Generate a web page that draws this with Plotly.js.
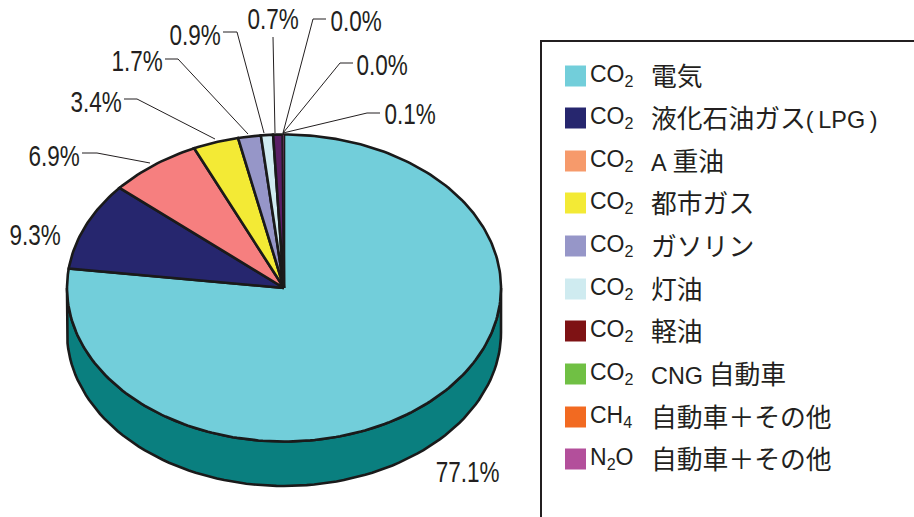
<!DOCTYPE html>
<html><head><meta charset="utf-8">
<script src="https://cdn.plot.ly/plotly-3.0.1.min.js"></script>
<style>html,body{margin:0;padding:0;background:#fff;overflow:hidden}</style>
</head><body><div id="chart" style="width:914px;height:517px"></div>
<script>
// Data
const formulas = ['CO<sub>2</sub>','CO<sub>2</sub>','CO<sub>2</sub>','CO<sub>2</sub>','CO<sub>2</sub>','CO<sub>2</sub>','CO<sub>2</sub>','CO<sub>2</sub>','CH<sub>4</sub>','N<sub>2</sub>O'];
const names = ['電気','液化石油ガス(\u2009LPG\u2009)','A 重油','都市ガス','ガソリン','灯油','軽油','CNG 自動車','自動車\uFF0Bその他','自動車\uFF0Bその他'];
const values = [77.1,9.3,6.9,3.4,1.7,0.9,0.7,0.0,0.0,0.1];
const sliceColors = ['#72CEDA','#26266E','#F67F7F','#F3EA35','#9696C8','#CFEBF0','#5A1F66','#70C044','#F26A21','#B34F9B'];
const legendColors = ['#72CEDA','#26266E','#F69A6B','#F3EA35','#9696C8','#CFEBF0','#7E1214','#70C044','#F26A21','#B34F9B'];
const sideColor = '#0A7F7F';
const ink = '#231F20';

// Layout helpers (pixel -> pie units)
const W=914,H=517,cx=284,cy=288,rx=217,ry=153.5,depth=44.5/153.5;
const X=p=>(p-cx)/rx, Y=p=>(cy-p)/ry;
const total=values.reduce((a,b)=>a+b,0);
const edge={color:'#1a1a1a',width:2.6};
const traces=[];
// side wall
(function(){
  const xs=[],ys=[];
  for(let a=90;a<=270;a+=2){const t=a*Math.PI/180;xs.push(Math.sin(t));ys.push(Math.cos(t));}
  for(let a=270;a>=90;a-=2){const t=a*Math.PI/180;xs.push(Math.sin(t));ys.push(Math.cos(t)-depth);}
  xs.push(xs[0]);ys.push(ys[0]);
  traces.push({type:'scatter',mode:'lines',x:xs,y:ys,fill:'toself',fillcolor:sideColor,line:edge,hoverinfo:'skip',showlegend:false});
})();
// slices
let cum=0;
values.forEach((v,i)=>{
  if(v<=0){return;}
  const a0=cum/total*2*Math.PI; cum+=v; const a1=cum/total*2*Math.PI;
  const xs=[0],ys=[0];const n=Math.max(2,Math.ceil((a1-a0)/0.02));
  for(let k=0;k<=n;k++){const t=a0+(a1-a0)*k/n;xs.push(Math.sin(t));ys.push(Math.cos(t));}
  xs.push(0);ys.push(0);
  traces.push({type:'scatter',mode:'lines',x:xs,y:ys,fill:'toself',fillcolor:sliceColors[i],line:{color:edge.color,width:v<0.5?1:edge.width},hoverinfo:'skip',showlegend:false,name:formulas[i]+' '+names[i]});
});
// value labels
const labelFont={family:'"Liberation Sans",Arial,sans-serif',size:30,color:ink};
const labelPos=[[467,471],[35,234],[54,155],[96,101],[137,60],[195,34],[273,18],[356,20],[382,64],[410,113]];
const annotations=[];
values.forEach((v,i)=>{
  annotations.push({xref:'x',yref:'y',x:X(labelPos[i][0]),y:Y(labelPos[i][1]),text:v.toFixed(1)+'%',showarrow:false,font:labelFont,xanchor:'center',yanchor:'middle'});
});
// leader lines
const leaders=[[[82,153],[97,153],[150,163]],[[124,99],[137,99],[215,139]],[[165,59],[178,59],[248,134]],[[223,32],[237,32],[264,133]],[[273,37],[275,133]],[[326,19],[313,19],[283,133]],[[353,63],[340,63],[283,133]],[[380,113],[367,113],[283,133]]];
leaders.forEach(l=>traces.push({type:'scatter',mode:'lines',x:l.map(p=>X(p[0])),y:l.map(p=>Y(p[1])),line:{color:ink,width:1},hoverinfo:'skip',showlegend:false}));
// legend
const rowY=[76,118,161,203,246,289,331,374,417,459];
traces.push({type:'scatter',mode:'markers',x:rowY.map(()=>X(575.5)),y:rowY.map(p=>Y(p)),marker:{symbol:'square',size:21,color:legendColors,line:{width:0}},hoverinfo:'skip',showlegend:false});
const legFont={family:'"Liberation Sans",Arial,sans-serif',size:23,color:ink};
const jpFont={family:'"Noto Sans CJK JP","Liberation Sans",sans-serif',size:25.8,color:ink};
const styled=s=>s.replace(/[A-Z()\u2009]+/g,m=>'<span style="font-size:23.4px;font-family:Liberation Sans">'+m+'</span>');
rowY.forEach((p,i)=>{
  annotations.push({xref:'x',yref:'y',x:X(588),y:Y(p-1),text:formulas[i],showarrow:false,font:legFont,xanchor:'left',yanchor:'middle'});
  annotations.push({xref:'x',yref:'y',x:X(649),y:Y(p-2),text:styled(names[i]),showarrow:false,font:jpFont,xanchor:'left',yanchor:'middle'});
});
const layout={width:W,height:H,margin:{l:0,r:0,t:0,b:0},paper_bgcolor:'#fff',plot_bgcolor:'#fff',showlegend:false,
 xaxis:{range:[X(0),X(W)],visible:false,fixedrange:true},
 yaxis:{range:[Y(H),Y(0)],visible:false,fixedrange:true},
 shapes:[{type:'rect',xref:'x',yref:'y',x0:X(541),x1:X(930),y0:Y(41),y1:Y(530),line:{color:ink,width:2},fillcolor:'rgba(0,0,0,0)',layer:'below'}],
 annotations};
Plotly.newPlot('chart',traces,layout,{displayModeBar:false,staticPlot:true}).then(()=>{
  // the reference's percentage labels use a condensed face
  document.querySelectorAll('.annotation-text').forEach(t=>{
    if(/%$/.test(t.textContent)){
      t.setAttribute('textLength',(t.getComputedTextLength()*0.75).toFixed(1));
      t.setAttribute('lengthAdjust','spacingAndGlyphs');
    }
  });
});
</script></body></html>
